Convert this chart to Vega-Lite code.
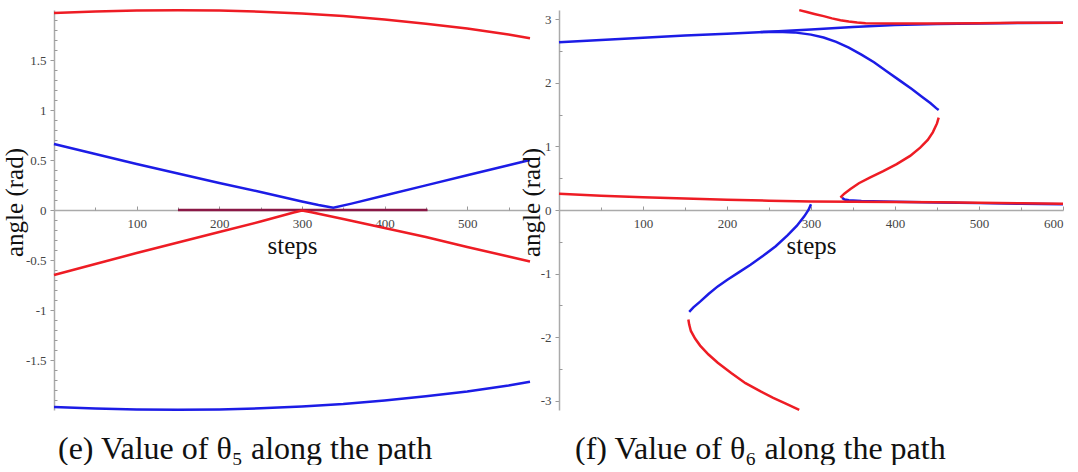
{
  "$schema": "https://vega.github.io/schema/vega-lite/v6.json",
  "background": "white",
  "padding": {"left": 2, "top": 5, "right": 0, "bottom": 0},
  "bounds": "flush",
  "spacing": 29,
  "config": {
    "view": {"stroke": null},
    "font": "Liberation Serif",
    "axis": {"labelFont": "Liberation Serif", "labelFontSize": 13, "labelColor": "#444", "domainColor": "#aaa", "domainWidth": 1.5, "tickColor": "#999", "grid": false, "titleFont": "Liberation Serif", "titleFontWeight": "normal", "titleColor": "#111", "titleFontSize": 25}
  },
  "datasets": {
    "e": [
      {"c": "b_bot", "col": "blue", "i": 0, "s": 0, "a": -1.97},
      {"c": "b_bot", "col": "blue", "i": 1, "s": 50, "a": -1.985},
      {"c": "b_bot", "col": "blue", "i": 2, "s": 100, "a": -1.995},
      {"c": "b_bot", "col": "blue", "i": 3, "s": 150, "a": -1.998},
      {"c": "b_bot", "col": "blue", "i": 4, "s": 200, "a": -1.994},
      {"c": "b_bot", "col": "blue", "i": 5, "s": 250, "a": -1.983},
      {"c": "b_bot", "col": "blue", "i": 6, "s": 300, "a": -1.965},
      {"c": "b_bot", "col": "blue", "i": 7, "s": 350, "a": -1.94},
      {"c": "b_bot", "col": "blue", "i": 8, "s": 400, "a": -1.905},
      {"c": "b_bot", "col": "blue", "i": 9, "s": 450, "a": -1.863},
      {"c": "b_bot", "col": "blue", "i": 10, "s": 500, "a": -1.815},
      {"c": "b_bot", "col": "blue", "i": 11, "s": 550, "a": -1.755},
      {"c": "b_bot", "col": "blue", "i": 12, "s": 576, "a": -1.718},
      {"c": "dk", "col": "dark", "i": 0, "s": 150, "a": 0.0},
      {"c": "dk", "col": "dark", "i": 1, "s": 452, "a": 0.0},
      {"c": "b_v", "col": "blue", "i": 0, "s": 0, "a": 0.66},
      {"c": "b_v", "col": "blue", "i": 1, "s": 50, "a": 0.56},
      {"c": "b_v", "col": "blue", "i": 2, "s": 100, "a": 0.46},
      {"c": "b_v", "col": "blue", "i": 3, "s": 150, "a": 0.365},
      {"c": "b_v", "col": "blue", "i": 4, "s": 200, "a": 0.27},
      {"c": "b_v", "col": "blue", "i": 5, "s": 250, "a": 0.18},
      {"c": "b_v", "col": "blue", "i": 6, "s": 300, "a": 0.085},
      {"c": "b_v", "col": "blue", "i": 7, "s": 320, "a": 0.05},
      {"c": "b_v", "col": "blue", "i": 8, "s": 338, "a": 0.022},
      {"c": "b_v", "col": "blue", "i": 9, "s": 360, "a": 0.064},
      {"c": "b_v", "col": "blue", "i": 10, "s": 400, "a": 0.145},
      {"c": "b_v", "col": "blue", "i": 11, "s": 450, "a": 0.246},
      {"c": "b_v", "col": "blue", "i": 12, "s": 500, "a": 0.347},
      {"c": "b_v", "col": "blue", "i": 13, "s": 550, "a": 0.448},
      {"c": "b_v", "col": "blue", "i": 14, "s": 576, "a": 0.5},
      {"c": "r_top", "col": "red", "i": 0, "s": 0, "a": 1.97},
      {"c": "r_top", "col": "red", "i": 1, "s": 50, "a": 1.985},
      {"c": "r_top", "col": "red", "i": 2, "s": 100, "a": 1.995},
      {"c": "r_top", "col": "red", "i": 3, "s": 150, "a": 1.998},
      {"c": "r_top", "col": "red", "i": 4, "s": 200, "a": 1.994},
      {"c": "r_top", "col": "red", "i": 5, "s": 250, "a": 1.983},
      {"c": "r_top", "col": "red", "i": 6, "s": 300, "a": 1.965},
      {"c": "r_top", "col": "red", "i": 7, "s": 350, "a": 1.94},
      {"c": "r_top", "col": "red", "i": 8, "s": 400, "a": 1.905},
      {"c": "r_top", "col": "red", "i": 9, "s": 450, "a": 1.863},
      {"c": "r_top", "col": "red", "i": 10, "s": 500, "a": 1.815},
      {"c": "r_top", "col": "red", "i": 11, "s": 550, "a": 1.755},
      {"c": "r_top", "col": "red", "i": 12, "s": 576, "a": 1.718},
      {"c": "r_lam", "col": "red", "i": 0, "s": 0, "a": -0.65},
      {"c": "r_lam", "col": "red", "i": 1, "s": 50, "a": -0.54},
      {"c": "r_lam", "col": "red", "i": 2, "s": 100, "a": -0.43},
      {"c": "r_lam", "col": "red", "i": 3, "s": 150, "a": -0.325},
      {"c": "r_lam", "col": "red", "i": 4, "s": 200, "a": -0.22},
      {"c": "r_lam", "col": "red", "i": 5, "s": 250, "a": -0.115},
      {"c": "r_lam", "col": "red", "i": 6, "s": 290, "a": -0.025},
      {"c": "r_lam", "col": "red", "i": 7, "s": 300, "a": -0.005},
      {"c": "r_lam", "col": "red", "i": 8, "s": 310, "a": -0.02},
      {"c": "r_lam", "col": "red", "i": 9, "s": 350, "a": -0.09},
      {"c": "r_lam", "col": "red", "i": 10, "s": 400, "a": -0.18},
      {"c": "r_lam", "col": "red", "i": 11, "s": 450, "a": -0.27},
      {"c": "r_lam", "col": "red", "i": 12, "s": 500, "a": -0.37},
      {"c": "r_lam", "col": "red", "i": 13, "s": 550, "a": -0.465},
      {"c": "r_lam", "col": "red", "i": 14, "s": 576, "a": -0.515}
    ],
    "f": [
      {"c": "b_top", "col": "blue", "i": 0, "s": 0, "a": 2.635},
      {"c": "b_top", "col": "blue", "i": 1, "s": 50, "a": 2.67},
      {"c": "b_top", "col": "blue", "i": 2, "s": 100, "a": 2.705},
      {"c": "b_top", "col": "blue", "i": 3, "s": 150, "a": 2.74},
      {"c": "b_top", "col": "blue", "i": 4, "s": 200, "a": 2.77},
      {"c": "b_top", "col": "blue", "i": 5, "s": 250, "a": 2.8},
      {"c": "b_top", "col": "blue", "i": 6, "s": 300, "a": 2.835},
      {"c": "b_top", "col": "blue", "i": 7, "s": 350, "a": 2.875},
      {"c": "b_top", "col": "blue", "i": 8, "s": 400, "a": 2.905},
      {"c": "b_top", "col": "blue", "i": 9, "s": 450, "a": 2.92},
      {"c": "b_top", "col": "blue", "i": 10, "s": 500, "a": 2.93},
      {"c": "b_top", "col": "blue", "i": 11, "s": 550, "a": 2.937},
      {"c": "b_top", "col": "blue", "i": 12, "s": 600, "a": 2.94},
      {"c": "b_arc", "col": "blue", "i": 0, "s": 240, "a": 2.795},
      {"c": "b_arc", "col": "blue", "i": 1, "s": 260, "a": 2.8},
      {"c": "b_arc", "col": "blue", "i": 2, "s": 280, "a": 2.79},
      {"c": "b_arc", "col": "blue", "i": 3, "s": 300, "a": 2.755},
      {"c": "b_arc", "col": "blue", "i": 4, "s": 315, "a": 2.71},
      {"c": "b_arc", "col": "blue", "i": 5, "s": 330, "a": 2.64},
      {"c": "b_arc", "col": "blue", "i": 6, "s": 345, "a": 2.55},
      {"c": "b_arc", "col": "blue", "i": 7, "s": 360, "a": 2.44},
      {"c": "b_arc", "col": "blue", "i": 8, "s": 375, "a": 2.32},
      {"c": "b_arc", "col": "blue", "i": 9, "s": 390, "a": 2.18},
      {"c": "b_arc", "col": "blue", "i": 10, "s": 405, "a": 2.04},
      {"c": "b_arc", "col": "blue", "i": 11, "s": 420, "a": 1.9},
      {"c": "b_arc", "col": "blue", "i": 12, "s": 432, "a": 1.78},
      {"c": "b_arc", "col": "blue", "i": 13, "s": 442, "a": 1.68},
      {"c": "b_arc", "col": "blue", "i": 14, "s": 449, "a": 1.6},
      {"c": "b_arc", "col": "blue", "i": 15, "s": 452, "a": 1.57},
      {"c": "b_hook", "col": "blue", "i": 0, "s": 337, "a": 0.19},
      {"c": "b_hook", "col": "blue", "i": 1, "s": 340, "a": 0.165},
      {"c": "b_hook", "col": "blue", "i": 2, "s": 345, "a": 0.152},
      {"c": "b_hook", "col": "blue", "i": 3, "s": 360, "a": 0.14},
      {"c": "b_hook", "col": "blue", "i": 4, "s": 400, "a": 0.13},
      {"c": "b_hook", "col": "blue", "i": 5, "s": 450, "a": 0.118},
      {"c": "b_hook", "col": "blue", "i": 6, "s": 500, "a": 0.108},
      {"c": "b_hook", "col": "blue", "i": 7, "s": 550, "a": 0.098},
      {"c": "b_hook", "col": "blue", "i": 8, "s": 600, "a": 0.092},
      {"c": "b_low", "col": "blue", "i": 0, "s": 300, "a": 0.09},
      {"c": "b_low", "col": "blue", "i": 1, "s": 297, "a": 0.0},
      {"c": "b_low", "col": "blue", "i": 2, "s": 292, "a": -0.1},
      {"c": "b_low", "col": "blue", "i": 3, "s": 283, "a": -0.25},
      {"c": "b_low", "col": "blue", "i": 4, "s": 272, "a": -0.4},
      {"c": "b_low", "col": "blue", "i": 5, "s": 258, "a": -0.57},
      {"c": "b_low", "col": "blue", "i": 6, "s": 243, "a": -0.72},
      {"c": "b_low", "col": "blue", "i": 7, "s": 228, "a": -0.86},
      {"c": "b_low", "col": "blue", "i": 8, "s": 214, "a": -0.98},
      {"c": "b_low", "col": "blue", "i": 9, "s": 200, "a": -1.1},
      {"c": "b_low", "col": "blue", "i": 10, "s": 189, "a": -1.2},
      {"c": "b_low", "col": "blue", "i": 11, "s": 178, "a": -1.32},
      {"c": "b_low", "col": "blue", "i": 12, "s": 168, "a": -1.44},
      {"c": "b_low", "col": "blue", "i": 13, "s": 160, "a": -1.53},
      {"c": "b_low", "col": "blue", "i": 14, "s": 155, "a": -1.6},
      {"c": "r_top", "col": "red", "i": 0, "s": 286, "a": 3.14},
      {"c": "r_top", "col": "red", "i": 1, "s": 295, "a": 3.11},
      {"c": "r_top", "col": "red", "i": 2, "s": 304, "a": 3.08},
      {"c": "r_top", "col": "red", "i": 3, "s": 315, "a": 3.045},
      {"c": "r_top", "col": "red", "i": 4, "s": 325, "a": 3.01},
      {"c": "r_top", "col": "red", "i": 5, "s": 335, "a": 2.98},
      {"c": "r_top", "col": "red", "i": 6, "s": 345, "a": 2.96},
      {"c": "r_top", "col": "red", "i": 7, "s": 355, "a": 2.945},
      {"c": "r_top", "col": "red", "i": 8, "s": 365, "a": 2.935},
      {"c": "r_top", "col": "red", "i": 9, "s": 400, "a": 2.93},
      {"c": "r_top", "col": "red", "i": 10, "s": 450, "a": 2.93},
      {"c": "r_top", "col": "red", "i": 11, "s": 500, "a": 2.935},
      {"c": "r_top", "col": "red", "i": 12, "s": 550, "a": 2.94},
      {"c": "r_top", "col": "red", "i": 13, "s": 600, "a": 2.94},
      {"c": "r_arc", "col": "red", "i": 0, "s": 452, "a": 1.45},
      {"c": "r_arc", "col": "red", "i": 1, "s": 450, "a": 1.36},
      {"c": "r_arc", "col": "red", "i": 2, "s": 445, "a": 1.22},
      {"c": "r_arc", "col": "red", "i": 3, "s": 439, "a": 1.1},
      {"c": "r_arc", "col": "red", "i": 4, "s": 430, "a": 0.98},
      {"c": "r_arc", "col": "red", "i": 5, "s": 418, "a": 0.85},
      {"c": "r_arc", "col": "red", "i": 6, "s": 402, "a": 0.72},
      {"c": "r_arc", "col": "red", "i": 7, "s": 386, "a": 0.61},
      {"c": "r_arc", "col": "red", "i": 8, "s": 370, "a": 0.51},
      {"c": "r_arc", "col": "red", "i": 9, "s": 357, "a": 0.42},
      {"c": "r_arc", "col": "red", "i": 10, "s": 347, "a": 0.33},
      {"c": "r_arc", "col": "red", "i": 11, "s": 340, "a": 0.26},
      {"c": "r_arc", "col": "red", "i": 12, "s": 336, "a": 0.21},
      {"c": "r_arc", "col": "red", "i": 13, "s": 337, "a": 0.19},
      {"c": "r_low", "col": "red", "i": 0, "s": 0, "a": 0.255},
      {"c": "r_low", "col": "red", "i": 1, "s": 50, "a": 0.225},
      {"c": "r_low", "col": "red", "i": 2, "s": 100, "a": 0.2},
      {"c": "r_low", "col": "red", "i": 3, "s": 150, "a": 0.18},
      {"c": "r_low", "col": "red", "i": 4, "s": 200, "a": 0.162},
      {"c": "r_low", "col": "red", "i": 5, "s": 250, "a": 0.147},
      {"c": "r_low", "col": "red", "i": 6, "s": 300, "a": 0.135},
      {"c": "r_low", "col": "red", "i": 7, "s": 350, "a": 0.13},
      {"c": "r_low", "col": "red", "i": 8, "s": 400, "a": 0.125},
      {"c": "r_low", "col": "red", "i": 9, "s": 450, "a": 0.12},
      {"c": "r_low", "col": "red", "i": 10, "s": 500, "a": 0.112},
      {"c": "r_low", "col": "red", "i": 11, "s": 550, "a": 0.105},
      {"c": "r_low", "col": "red", "i": 12, "s": 600, "a": 0.1},
      {"c": "r_low2", "col": "red", "i": 0, "s": 154, "a": -1.72},
      {"c": "r_low2", "col": "red", "i": 1, "s": 155, "a": -1.8},
      {"c": "r_low2", "col": "red", "i": 2, "s": 157, "a": -1.9},
      {"c": "r_low2", "col": "red", "i": 3, "s": 162, "a": -2.02},
      {"c": "r_low2", "col": "red", "i": 4, "s": 168, "a": -2.13},
      {"c": "r_low2", "col": "red", "i": 5, "s": 178, "a": -2.27},
      {"c": "r_low2", "col": "red", "i": 6, "s": 189, "a": -2.4},
      {"c": "r_low2", "col": "red", "i": 7, "s": 205, "a": -2.56},
      {"c": "r_low2", "col": "red", "i": 8, "s": 222, "a": -2.72},
      {"c": "r_low2", "col": "red", "i": 9, "s": 240, "a": -2.85},
      {"c": "r_low2", "col": "red", "i": 10, "s": 255, "a": -2.95},
      {"c": "r_low2", "col": "red", "i": 11, "s": 270, "a": -3.04},
      {"c": "r_low2", "col": "red", "i": 12, "s": 286, "a": -3.14}
    ]
  },
  "hconcat": [
    {
      "width": 476,
      "height": 400,
      "data": {"name": "e"},
      "title": {"text": "(e) Value of θ₅ along the path", "orient": "bottom", "anchor": "start", "frame": "group", "dx": 4, "offset": 19, "font": "Liberation Serif", "fontSize": 32, "fontWeight": "normal", "color": "#111"},
      "layer": [
        {
          "transform": [{"filter": "datum.col != 'red'"}],
          "mark": {"type": "line", "strokeWidth": 2.5},
          "encoding": {
            "x": {"field": "s", "type": "quantitative", "scale": {"domain": [0, 576], "nice": false, "zero": false}, "axis": {"title": "steps", "offset": -200, "values": [100, 200, 300, 400, 500], "tickSize": -4, "labelPadding": 11, "titleY": 23, "titleBaseline": "top"}},
            "y": {"field": "a", "type": "quantitative", "scale": {"domain": [-2, 2], "nice": false}, "axis": {"title": "angle (rad)", "values": [-1.5, -1, -0.5, 0, 0.5, 1, 1.5], "labelExpr": "'' + datum.value", "tickSize": 4, "labelPadding": 4, "titleX": -27, "titleY": 192}},
            "color": {"field": "col", "type": "nominal", "scale": {"domain": ["red", "blue", "dark"], "range": ["#ee1c24", "#1c1ce6", "#8a1846"]}, "legend": null},
            "detail": {"field": "c"},
            "order": {"field": "i", "type": "quantitative"}
          }
        },
        {
          "transform": [{"filter": "datum.col == 'red'"}],
          "mark": {"type": "line", "strokeWidth": 2.5},
          "encoding": {
            "x": {"field": "s", "type": "quantitative", "axis": {"title": null, "orient": "bottom", "offset": -200, "domain": false, "labels": false, "values": [50, 150, 250, 350, 450, 550], "tickSize": -3}},
            "y": {"field": "a", "type": "quantitative", "axis": {"title": null, "orient": "left", "domain": false, "labels": false, "values": [-1.9, -1.8, -1.7, -1.6, -1.4, -1.3, -1.2, -1.1, -0.9, -0.8, -0.7, -0.6, -0.4, -0.3, -0.2, -0.1, 0.1, 0.2, 0.3, 0.4, 0.6, 0.7, 0.8, 0.9, 1.1, 1.2, 1.3, 1.4, 1.6, 1.7, 1.8, 1.9], "tickSize": -3}},
            "color": {"field": "col", "type": "nominal", "legend": null},
            "detail": {"field": "c"},
            "order": {"field": "i", "type": "quantitative"}
          }
        }
      ],
      "resolve": {"axis": {"x": "independent", "y": "independent"}}
    },
    {
      "width": 504,
      "height": 400,
      "data": {"name": "f"},
      "title": {"text": "(f) Value of θ₆ along the path", "orient": "bottom", "anchor": "start", "frame": "group", "dx": 16, "offset": 19, "font": "Liberation Serif", "fontSize": 32, "fontWeight": "normal", "color": "#111"},
      "layer": [
        {
          "transform": [{"filter": "datum.col != 'red'"}],
          "mark": {"type": "line", "strokeWidth": 2.5},
          "encoding": {
            "x": {"field": "s", "type": "quantitative", "scale": {"domain": [0, 600], "nice": false, "zero": false}, "axis": {"title": "steps", "offset": -200, "values": [100, 200, 300, 400, 500, 600], "tickSize": -4, "labelPadding": 11, "titleY": 23, "titleBaseline": "top"}},
            "y": {"field": "a", "type": "quantitative", "scale": {"domain": [-3.1416, 3.1416], "nice": false}, "axis": {"title": "angle (rad)", "values": [-3, -2, -1, 0, 1, 2, 3], "labelExpr": "'' + datum.value", "tickSize": 4, "labelPadding": 4, "titleX": -15, "titleY": 192}},
            "color": {"field": "col", "type": "nominal", "scale": {"domain": ["red", "blue", "dark"], "range": ["#ee1c24", "#1c1ce6", "#8a1846"]}, "legend": null},
            "detail": {"field": "c"},
            "order": {"field": "i", "type": "quantitative"}
          }
        },
        {
          "transform": [{"filter": "datum.col == 'red'"}],
          "mark": {"type": "line", "strokeWidth": 2.5},
          "encoding": {
            "x": {"field": "s", "type": "quantitative", "axis": {"title": null, "orient": "bottom", "offset": -200, "domain": false, "labels": false, "values": [50, 150, 250, 350, 450, 550], "tickSize": -3}},
            "y": {"field": "a", "type": "quantitative", "axis": {"title": null, "orient": "left", "domain": false, "labels": false, "values": [-2.5, -1.5, -0.5, 0.5, 1.5, 2.5], "tickSize": -3}},
            "color": {"field": "col", "type": "nominal", "legend": null},
            "detail": {"field": "c"},
            "order": {"field": "i", "type": "quantitative"}
          }
        }
      ],
      "resolve": {"axis": {"x": "independent", "y": "independent"}}
    }
  ]
}
